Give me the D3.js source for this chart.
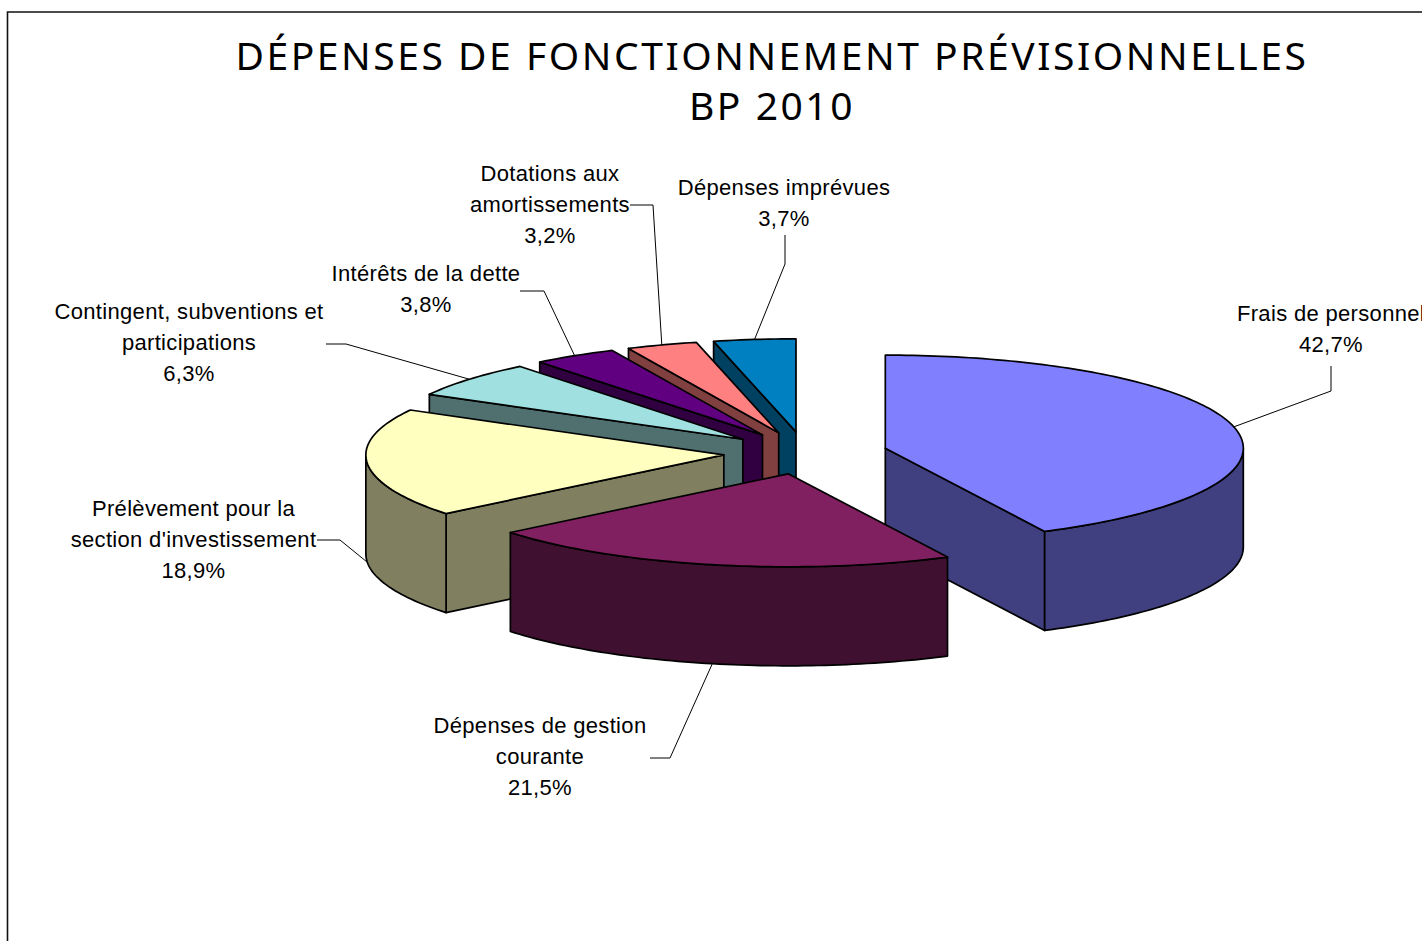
<!DOCTYPE html>
<html>
<head>
<meta charset="utf-8">
<script src="https://cdn.jsdelivr.net/npm/d3@7"></script>
<style>
body { margin: 0; background: #fff; }
svg { display: block; }
</style>
</head>
<body>
<svg id="chart" width="1422" height="941"></svg>
<script>
const categories = ["Frais de personnel", "Dépenses de gestion courante", "Prélèvement pour la section d'investissement",
	"Contingent, subventions et participations", "Intérêts de la dette", "Dotations aux amortissements", "Dépenses imprévues"]
const shares = [42.7, 21.5, 18.9, 6.3, 3.8, 3.2, 3.7]
const labelLines = [
	["Frais de personnel"],
	["Dépenses de gestion", "courante"],
	["Prélèvement pour la", "section d'investissement"],
	["Contingent, subventions et", "participations"],
	["Intérêts de la dette"],
	["Dotations aux", "amortissements"],
	["Dépenses imprévues"]
]
const titleLines = ["DÉPENSES DE FONCTIONNEMENT PRÉVISIONNELLES", "BP 2010"]

const topColors = ["#8080ff", "#802060", "#ffffc0", "#a0e0e0", "#600080", "#ff8080", "#0080c0"]
const wallColors = ["#404080", "#401030", "#808060", "#507070", "#300040", "#804040", "#004060"]

// label block: centre x, first baseline, then the leader's start and elbow
const labelLayout = [
	{ x: 1331, y: 321, from: [1331, 366], elbow: [1331, 391] },
	{ x: 540, y: 733, from: [650, 758], elbow: [670, 758] },
	{ x: 193.5, y: 515.5, from: [317, 540], elbow: [340, 540] },
	{ x: 189, y: 319, from: [326, 344], elbow: [346, 344] },
	{ x: 426, y: 281, from: [520, 291], elbow: [544, 291] },
	{ x: 550, y: 181, from: [630, 205], elbow: [653, 205] },
	{ x: 784, y: 195, from: [785, 235], elbow: [785, 264] }
]

const dimensions = { width: 1422, height: 941, cx: 805.5, cy: 453, rx: 358, ry: 93, depth: 99, explode: 0.229 }

const svg = d3.select("#chart")

// frame, runs off the right and the bottom of the picture
svg.append("path")
	.attr("d", d3.line()([[7.5, dimensions.height], [7.5, 12], [dimensions.width, 12]]))
	.style("fill", "none")
	.style("stroke", "#111")
	.style("stroke-width", 1.6)

svg.selectAll(".title")
	.data(titleLines)
	.enter()
	.append("text")
	.attr("class", "title")
	.attr("x", 772)
	.attr("y", (d, i) => 70 + i * 50)
	.attr("text-anchor", "middle")
	.style("font-family", "'Noto Sans'")
	.style("font-size", "39px")
	.style("letter-spacing", "2.55px")
	.style("fill", "#000")
	.text(d => d)

const xScale = d3.scaleLinear().domain([-1, 1]).range([dimensions.cx - dimensions.rx, dimensions.cx + dimensions.rx])
const yScale = d3.scaleLinear().domain([-1, 1]).range([dimensions.cy - dimensions.ry, dimensions.cy + dimensions.ry])

const pie = d3.pie().sort(null).value(d => d)
const slices = pie(shares).map((d, i) => {
	const mid = (d.startAngle + d.endAngle) / 2
	return {
		index: i,
		a0: d.startAngle,
		a1: d.endAngle,
		mid: mid,
		ox: dimensions.explode * Math.sin(mid),
		oy: -dimensions.explode * Math.cos(mid)
	}
})

const apex = s => [xScale(s.ox), yScale(s.oy)]
const rim = (s, a) => [xScale(s.ox + Math.sin(a)), yScale(s.oy - Math.cos(a))]
const down = p => [p[0], p[1] + dimensions.depth]
const arcPoints = (s, a0, a1) => {
	const steps = Math.max(2, Math.ceil((a1 - a0) / 0.02))
	return d3.range(steps + 1).map(k => rim(s, a0 + (a1 - a0) * k / steps))
}
const closed = d3.line().curve(d3.curveLinearClosed)

const paint = (g, points, fill) => g.append("path")
	.attr("d", closed(points))
	.style("fill", fill)
	.style("stroke", "#000")
	.style("stroke-width", 1.7)
	.style("stroke-linejoin", "round")

// back slices first
const order = slices.slice().sort((a, b) => apex(a)[1] - apex(b)[1])
order.forEach(s => {
	const g = svg.append("g").attr("class", "slice")
	const wall = wallColors[s.index]
	const c = apex(s)
	// a cut face shows only when the slice lies above it on screen
	if (Math.sin(s.a0) < -1e-6) {
		const p = rim(s, s.a0)
		paint(g, [c, p, down(p), down(c)], wall)
	}
	if (Math.sin(s.a1) > 1e-6) {
		const p = rim(s, s.a1)
		paint(g, [c, p, down(p), down(c)], wall)
	}
	// outer wall, front half of the ellipse only
	const w0 = Math.max(s.a0, Math.PI / 2)
	const w1 = Math.min(s.a1, Math.PI * 1.5)
	if (w1 > w0) {
		const edge = arcPoints(s, w0, w1)
		paint(g, edge.concat(edge.map(down).reverse()), wall)
	}
	paint(g, [c].concat(arcPoints(s, s.a0, s.a1)), topColors[s.index])
})

// labels and leaders
slices.forEach(s => {
	const layout = labelLayout[s.index]
	let end = rim(s, s.mid)
	if (Math.cos(s.mid) < 0) end = down(end)
	svg.append("path")
		.attr("d", d3.line()([layout.from, layout.elbow, end]))
		.style("fill", "none")
		.style("stroke", "#000")
		.style("stroke-width", 1)

	const lines = labelLines[s.index].concat(String(shares[s.index]).replace(".", ",") + "%")
	svg.append("text")
		.attr("text-anchor", "middle")
		.style("font-family", "'Liberation Sans'")
		.style("font-size", "22px")
		.style("letter-spacing", "0.33px")
		.style("fill", "#000")
		.selectAll("tspan")
		.data(lines)
		.enter()
		.append("tspan")
		.attr("x", layout.x)
		.attr("y", (d, i) => layout.y + i * 31)
		.text(d => d)
})
</script>
</body>
</html>
